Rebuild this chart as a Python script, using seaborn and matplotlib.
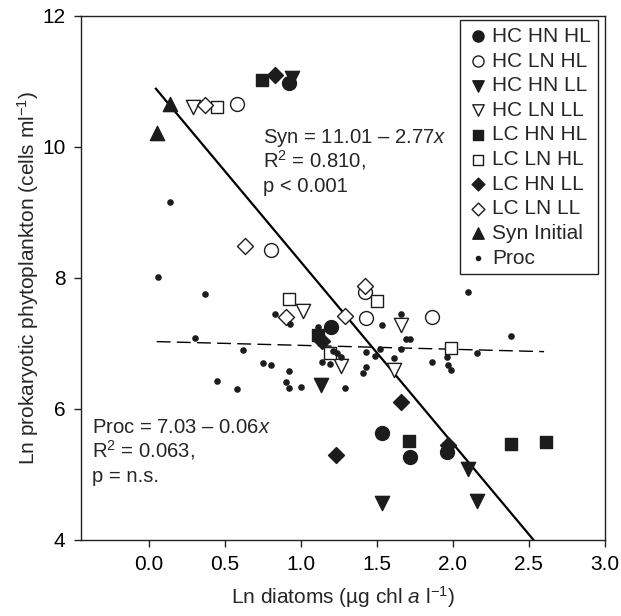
import matplotlib
matplotlib.use("Agg")
import matplotlib.pyplot as plt
import numpy as np
import pandas as pd
import seaborn as sns

# ---------------- data ----------------
hc_hn_hl_x = [0.92, 1.20, 1.53, 1.72, 1.96]
hc_hn_hl_y = [10.98, 7.25, 5.63, 5.26, 5.35]
hc_ln_hl_x = [0.58, 0.80, 1.42, 1.43, 1.86]
hc_ln_hl_y = [10.65, 8.42, 7.78, 7.38, 7.41]
hc_hn_ll_x = [0.94, 1.13, 1.53, 2.10, 2.16]
hc_hn_ll_y = [11.05, 6.37, 4.56, 5.08, 4.60]
hc_ln_ll_x = [0.29, 1.01, 1.26, 1.61, 1.66]
hc_ln_ll_y = [10.61, 7.50, 6.65, 6.60, 7.28]
lc_hn_hl_x = [0.74, 1.11, 1.71, 2.38, 2.61]
lc_hn_hl_y = [11.02, 7.13, 5.51, 5.47, 5.49]
lc_ln_hl_x = [0.45, 0.92, 1.19, 1.50, 1.99]
lc_ln_hl_y = [10.60, 7.68, 6.86, 7.64, 6.93]
lc_hn_ll_x = [0.83, 1.14, 1.23, 1.66, 1.97]
lc_hn_ll_y = [11.10, 7.03, 5.29, 6.10, 5.45]
lc_ln_ll_x = [0.37, 0.63, 0.90, 1.29, 1.42]
lc_ln_ll_y = [10.64, 8.49, 7.41, 7.42, 7.88]
syn_initial_x = [0.05, 0.14]
syn_initial_y = [10.21, 10.66]
proc_x = [0.14, 0.06, 0.37, 0.30, 0.62, 0.75, 0.80, 0.92, 0.83, 0.93,
          1.11, 1.14, 1.19, 0.45, 0.58, 0.90, 0.92, 1.00, 1.21, 1.24,
          1.26, 1.29, 1.43, 1.49, 1.52, 1.43, 1.41, 1.61, 1.66, 1.66,
          1.69, 1.72, 1.53, 1.86, 1.96, 1.97, 1.99, 2.16, 2.38, 2.10]
proc_y = [9.15, 8.01, 7.76, 7.08, 6.90, 6.70, 6.67, 6.58, 7.45, 7.29,
          7.25, 6.72, 6.68, 6.43, 6.30, 6.41, 6.32, 6.34, 6.89, 6.85,
          6.79, 6.32, 6.87, 6.81, 6.91, 6.64, 6.55, 6.77, 6.91, 7.45,
          7.07, 7.07, 7.28, 6.71, 6.79, 6.67, 6.60, 6.85, 7.12, 7.79]

group_labels = ["HC HN HL", "HC LN HL", "HC HN LL", "HC LN LL", "LC HN HL",
                "LC LN HL", "LC HN LL", "LC LN LL", "Syn Initial", "Proc"]

# regression equations printed on the chart
syn_intercept, syn_slope = 11.01, -2.77
syn_x_range = [0.04, 2.60]
proc_intercept, proc_slope = 7.03, -0.06
proc_x_range = [0.05, 2.60]

x_ticks = [0.0, 0.5, 1.0, 1.5, 2.0, 2.5, 3.0]
y_ticks = [4, 6, 8, 10, 12]

# ---------------- build long table ----------------
xs = [hc_hn_hl_x, hc_ln_hl_x, hc_hn_ll_x, hc_ln_ll_x, lc_hn_hl_x,
      lc_ln_hl_x, lc_hn_ll_x, lc_ln_ll_x, syn_initial_x, proc_x]
ys = [hc_hn_hl_y, hc_ln_hl_y, hc_hn_ll_y, hc_ln_ll_y, lc_hn_hl_y,
      lc_ln_hl_y, lc_hn_ll_y, lc_ln_ll_y, syn_initial_y, proc_y]
frames = [pd.DataFrame({"x": gx, "y": gy, "group": lab})
          for gx, gy, lab in zip(xs, ys, group_labels)]
df = pd.concat(frames, ignore_index=True)

# ---------------- style ----------------
sns.set_theme(style="ticks")
plt.rcParams["font.family"] = ["Liberation Sans", "DejaVu Sans"]
plt.rcParams["mathtext.fontset"] = "custom"
plt.rcParams["mathtext.rm"] = "Liberation Sans"
plt.rcParams["mathtext.it"] = "Liberation Sans:italic"
plt.rcParams["axes.edgecolor"] = "#222222"
plt.rcParams["axes.linewidth"] = 1.0

FS = 15
TFS = 14.6
dark = "#1c1c1c"
styles = {
    "HC HN HL": dict(marker="o", s=100, color=dark, edgecolor=dark),
    "HC LN HL": dict(marker="o", s=100, color="white", edgecolor=dark),
    "HC HN LL": dict(marker="v", s=105, color=dark, edgecolor=dark),
    "HC LN LL": dict(marker="v", s=105, color="white", edgecolor=dark),
    "LC HN HL": dict(marker="s", s=72, color=dark, edgecolor=dark),
    "LC LN HL": dict(marker="s", s=72, color="white", edgecolor=dark),
    "LC HN LL": dict(marker="D", s=66, color=dark, edgecolor=dark),
    "LC LN LL": dict(marker="D", s=66, color="white", edgecolor=dark),
    "Syn Initial": dict(marker="^", s=105, color=dark, edgecolor=dark),
    "Proc": dict(marker="o", s=14, color=dark, edgecolor=dark),
}

fig = plt.figure(figsize=(6.21, 6.16), dpi=100)
ax = fig.add_axes([0.130, 0.1234, 0.844, 0.8511])

# regression lines
sx = np.array(syn_x_range)
ax.plot(sx, syn_intercept + syn_slope * sx, color="black", lw=1.6,
        solid_capstyle="butt", zorder=1)
px = np.array(proc_x_range)
ax.plot(px, proc_intercept + proc_slope * px, color="black", lw=1.0,
        dashes=(10, 4.5), zorder=1)

for lab in group_labels:
    sub = df[df["group"] == lab]
    st = styles[lab]
    sns.scatterplot(data=sub, x="x", y="y", ax=ax, label=lab,
                    marker=st["marker"], s=st["s"], color=st["color"],
                    edgecolor=st["edgecolor"], linewidth=1.0, zorder=3)

ax.set_xlim(-0.45, 3.0)
ax.set_ylim(4, 12)
ax.set_xticks(x_ticks)
ax.set_xticklabels([f"{t:.1f}" for t in x_ticks])
ax.set_yticks(y_ticks)
ax.tick_params(axis="both", direction="out", length=5, width=1.0,
               labelsize=FS, pad=6, colors="#222222", labelcolor="black")
for sp in ax.spines.values():
    sp.set_visible(True)
    sp.set_linewidth(1.0)

ax.set_xlabel(r"Ln diatoms (µg chl $\it{a}$ l$^{-1}$)", fontsize=FS, labelpad=7)
ax.set_ylabel(r"Ln prokaryotic phytoplankton (cells ml$^{-1}$)", fontsize=FS,
              labelpad=1)

# annotations
ax.text(0.348, 0.757, r"Syn = 11.01 – 2.77$\it{x}$", transform=ax.transAxes,
        fontsize=TFS, va="baseline", ha="left")
ax.text(0.348, 0.7105, r"R$^{2}$ = 0.810,", transform=ax.transAxes,
        fontsize=TFS, va="baseline", ha="left")
ax.text(0.348, 0.664, "p < 0.001", transform=ax.transAxes,
        fontsize=TFS, va="baseline", ha="left")
ax.text(0.021, 0.204, r"Proc = 7.03 – 0.06$\it{x}$", transform=ax.transAxes,
        fontsize=TFS, va="baseline", ha="left")
ax.text(0.021, 0.157, r"R$^{2}$ = 0.063,", transform=ax.transAxes,
        fontsize=TFS, va="baseline", ha="left")
ax.text(0.021, 0.111, "p = n.s.", transform=ax.transAxes,
        fontsize=TFS, va="baseline", ha="left")

handles, labels = ax.get_legend_handles_labels()
leg = ax.legend(handles, labels, loc="upper right",
                bbox_to_anchor=(0.9866, 0.9918), frameon=True, fancybox=False,
                edgecolor="#222222", framealpha=1, markerscale=0.8,
                handletextpad=0.2, borderpad=0.33, labelspacing=0.27,
                handlelength=1.0, borderaxespad=0, fontsize=FS)
leg.get_frame().set_linewidth(1.0)

fig.savefig("out.png", dpi=100)
